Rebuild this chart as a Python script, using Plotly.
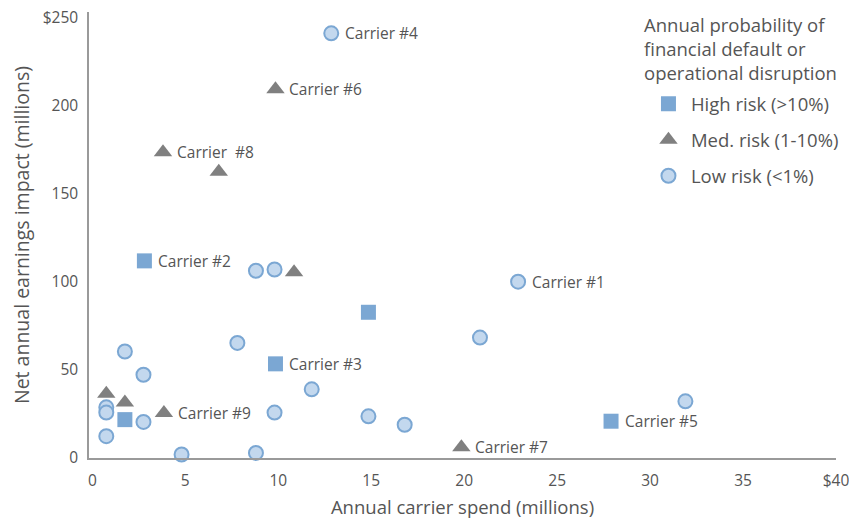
import plotly.graph_objects as go

# Low risk (<1%) carriers
low_x = [12.85, 8.8, 9.8, 7.8, 1.75, 2.75, 0.75, 0.75, 0.75, 2.75, 4.8, 8.8, 9.8, 11.8, 14.85, 16.8, 22.9, 20.85, 31.9]
low_y = [241.2, 106.3, 107.0, 65.3, 60.4, 47.2, 28.7, 25.7, 12.3, 20.4, 1.9, 2.8, 25.7, 38.9, 23.6, 18.8, 100.1, 68.3, 32.1]
low_lbl = ["Carrier #4", "", "", "", "", "", "", "", "", "", "", "", "", "", "", "", "Carrier #1", "", ""]

# High risk (>10%) carriers
high_x = [2.8, 14.85, 9.85, 1.75, 27.9]
high_y = [111.9, 82.7, 53.4, 21.7, 20.8]
high_lbl = ["Carrier #2", "", "Carrier #3", "", "Carrier #5"]

# Medium risk (1-10%) carriers
med_x = [9.85, 3.8, 6.8, 10.85, 0.75, 1.75, 3.85, 19.85]
med_y = [209.4, 173.6, 162.6, 105.5, 36.4, 31.4, 25.4, 6.0]
med_lbl = ["Carrier #6", "Carrier  #8", "", "", "", "", "Carrier #9", "Carrier #7"]

x_ticks = [0, 5, 10, 15, 20, 25, 30, 35, 40]
x_ticktext = ["0", "5", "10", "15", "20", "25", "30", "35", "$40"]
y_ticks = [0, 50, 100, 150, 200, 250]
y_ticktext = ["0", "50", "100", "150", "200", "$250"]

legend_title = "Annual probability of<br>financial default or<br>operational disruption"

FONT = "Open Sans"
TXT = "#555555"
BLUE = "#7BA7D3"
LIGHT = "#C3D8EE"
GRAY = "#808080"

fig = go.Figure()
fig.add_trace(go.Scatter(
    x=high_x, y=high_y, mode="markers", name="High risk (>10%)",
    legendgroup="h", cliponaxis=False,
    marker=dict(symbol="square", size=15, color=BLUE, line=dict(width=0)),
))
fig.add_trace(go.Scatter(
    x=med_x, y=med_y, mode="markers", name="Med. risk (1-10%)",
    legendgroup="m", cliponaxis=False,
    marker=dict(symbol="triangle-up", size=16, color=GRAY, line=dict(width=0)),
))
fig.add_trace(go.Scatter(
    x=low_x, y=low_y, mode="markers", name="Low risk (<1%)",
    legendgroup="l", cliponaxis=False,
    marker=dict(symbol="circle", size=14, color=LIGHT, line=dict(width=2, color=BLUE)),
))

for xs, ys, ls in [(low_x, low_y, low_lbl), (high_x, high_y, high_lbl), (med_x, med_y, med_lbl)]:
    for x, y, l in zip(xs, ys, ls):
        if l:
            fig.add_annotation(x=x, y=y, text=l, showarrow=False, xanchor="left",
                               yanchor="middle", xshift=12,
                               font=dict(family=FONT, size=15.5, color=TXT))

fig.add_annotation(xref="paper", yref="paper", x=0.740, y=1.004,
                   xanchor="left", yanchor="top", align="left", showarrow=False,
                   text=legend_title, font=dict(family=FONT, size=18.5, color=TXT))

fig.update_layout(
    width=849, height=513,
    margin=dict(l=81, r=21, t=4, b=63),
    paper_bgcolor="white", plot_bgcolor="white",
    font=dict(family=FONT, color=TXT),
    legend=dict(
        x=0.7456, y=0.836, xanchor="left", yanchor="top",
        font=dict(family=FONT, size=18.5, color=TXT),
        tracegroupgap=9, itemwidth=35,
        bgcolor="rgba(0,0,0,0)",
    ),
    xaxis=dict(
        range=[-0.18, 40], showgrid=False, zeroline=False, automargin=False,
        showline=True, linecolor="#9a9a9a", linewidth=1.5,
        tickvals=x_ticks, ticktext=x_ticktext, ticks="", ticklabelstandoff=8,
        ticklabeloverflow="allow",
        tickfont=dict(family=FONT, size=15.5, color=TXT),
        title=dict(text="Annual carrier spend (millions)", standoff=11,
                   font=dict(family=FONT, size=18.5, color=TXT)),
    ),
    yaxis=dict(
        range=[-0.1, 253.3], showgrid=False, zeroline=False, automargin=False,
        showline=True, linecolor="#9a9a9a", linewidth=1.5,
        tickvals=y_ticks, ticktext=y_ticktext, ticks="", ticklabelstandoff=6,
        ticklabeloverflow="allow",
        tickfont=dict(family=FONT, size=15.5, color=TXT),
        title=dict(text="Net annual earnings impact (millions)", standoff=10,
                   font=dict(family=FONT, size=19.5, color=TXT)),
    ),
)

fig.write_html("out.html")
